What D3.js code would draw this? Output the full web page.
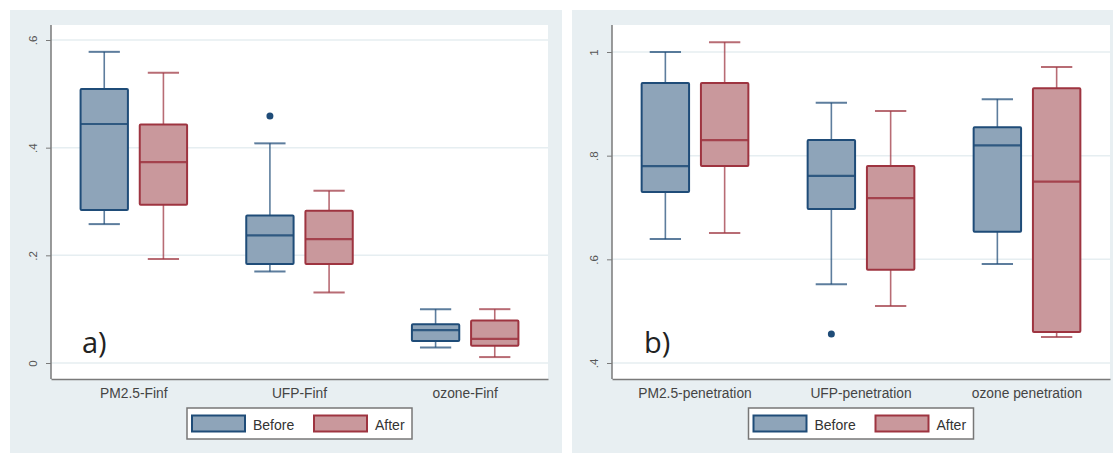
<!DOCTYPE html>
<html><head><meta charset="utf-8">
<script src="https://cdn.jsdelivr.net/npm/d3@7/dist/d3.min.js"></script>
<style>body{margin:0;background:#fff}svg{display:block}text{font-family:"Liberation Sans",Arial,sans-serif}</style>
</head><body><svg id="c" width="1113" height="454"></svg>
<script>
const seriesNames = ["Before", "After"];
// panel a
const catsA = ["PM2.5-Finf", "UFP-Finf", "ozone-Finf"];
const ticksA = [0, 0.2, 0.4, 0.6];
const tickLabelsA = ["0", ".2", ".4", ".6"];
// [lowWhisker, q1, median, q3, highWhisker]
const beforeA = [[0.258, 0.284, 0.444, 0.509, 0.578], [0.170, 0.184, 0.237, 0.274, 0.408], [0.029, 0.041, 0.061, 0.072, 0.100]];
const afterA  = [[0.193, 0.294, 0.373, 0.443, 0.539], [0.131, 0.184, 0.230, 0.283, 0.320], [0.011, 0.032, 0.045, 0.079, 0.100]];
const outliersBeforeA = [[], [0.459], []];
const outliersAfterA = [[], [], []];
// panel b
const catsB = ["PM2.5-penetration", "UFP-penetration", "ozone penetration"];
const ticksB = [0.4, 0.6, 0.8, 1.0];
const tickLabelsB = [".4", ".6", ".8", "1"];
const beforeB = [[0.639, 0.730, 0.780, 0.940, 1.000], [0.552, 0.697, 0.761, 0.830, 0.902], [0.591, 0.653, 0.820, 0.855, 0.909]];
const afterB  = [[0.651, 0.780, 0.830, 0.940, 1.019], [0.510, 0.580, 0.718, 0.780, 0.886], [0.450, 0.460, 0.750, 0.930, 0.971]];
const outliersBeforeB = [[], [0.456], []];
const outliersAfterB = [[], [], []];

const fills = ["#8ea4b9", "#c9989c"];
const strokes = ["#1f4c78", "#9e3440"];
const svg = d3.select("#c");

function panel(o) {
  const g = svg.append("g");
  g.append("rect").attr("x", o.bx0).attr("y", 10).attr("width", o.bx1 - o.bx0).attr("height", 443).attr("fill", "#e8eff2");
  g.append("rect").attr("x", o.px0).attr("y", 25).attr("width", o.px1 - o.px0).attr("height", 354).attr("fill", "#fff");
  const y = d3.scaleLinear().domain(o.domain).range(o.range);
  const x = d3.scaleBand().domain(o.cats).range([o.px0, o.px1]);
  const xs = d3.scaleBand().domain(seriesNames).range([0, x.bandwidth()]).paddingInner(0.2).paddingOuter(0.5);
  // grid
  g.selectAll(".grid").data(o.ticks).join("line")
    .attr("x1", o.px0).attr("x2", o.px1).attr("y1", d => y(d)).attr("y2", d => y(d))
    .attr("stroke", "#e6eef1").attr("stroke-width", 1.5);
  // y axis
  const ax = g.append("g").attr("transform", `translate(${o.px0},0)`)
    .call(d3.axisLeft(y).tickValues(o.ticks).tickFormat((d, i) => o.tickLabels[i]).tickSize(5).tickPadding(10));
  ax.select(".domain").attr("d", `M0,25V379`).attr("stroke", "#7a7a7a").attr("stroke-width", 1.5);
  ax.selectAll(".tick line").attr("stroke", "#7a7a7a");
  ax.selectAll(".tick text").attr("x", 0).attr("y", 0)
    .attr("dy", null).attr("text-anchor", "middle").attr("fill", "#555").attr("font-size", 11.5)
    .attr("transform", "translate(-14,0) rotate(-90)");
  // x axis
  const bx = g.append("g").attr("transform", `translate(0,379)`)
    .call(d3.axisBottom(x).tickSize(0).tickPadding(9));
  bx.select(".domain").attr("stroke", "#7a7a7a").attr("stroke-width", 1.5);
  bx.selectAll(".tick text").attr("fill", "#444").attr("font-size", 13.8);
  // boxes
  const series = [o.before, o.after];
  const outs = [o.outB, o.outA];
  series.forEach((arr, si) => {
    arr.forEach((s, ci) => {
      const x0 = x(o.cats[ci]) + xs(seriesNames[si]);
      const w = xs.bandwidth();
      const cx = x0 + w / 2;
      const wg = g.append("g");
      const capW = w * 0.66;
      wg.append("line").attr("x1", cx).attr("x2", cx).attr("y1", y(s[4])).attr("y2", y(s[3]))
        .attr("stroke", strokes[si]).attr("stroke-width", 1.6).attr("opacity", 0.72);
      wg.append("line").attr("x1", cx).attr("x2", cx).attr("y1", y(s[1])).attr("y2", y(s[0]))
        .attr("stroke", strokes[si]).attr("stroke-width", 1.6).attr("opacity", 0.72);
      [s[0], s[4]].forEach(v => wg.append("line").attr("x1", cx - capW / 2).attr("x2", cx + capW / 2)
        .attr("y1", y(v)).attr("y2", y(v)).attr("stroke", strokes[si]).attr("stroke-width", 2).attr("opacity", 0.72));
      wg.append("rect").attr("x", x0).attr("y", y(s[3])).attr("width", w).attr("height", y(s[1]) - y(s[3]))
        .attr("fill", fills[si]).attr("stroke", strokes[si]).attr("stroke-width", 2).attr("rx", 1);
      wg.append("line").attr("x1", x0).attr("x2", x0 + w).attr("y1", y(s[2])).attr("y2", y(s[2]))
        .attr("stroke", strokes[si]).attr("stroke-width", 2.2).attr("opacity", 0.85);
      outs[si][ci].forEach(v => wg.append("circle").attr("cx", cx).attr("cy", y(v)).attr("r", 3.5).attr("fill", strokes[si]));
    });
  });
  // panel label
  g.append("text").attr("x", o.labX).attr("y", 353).attr("font-size", 29).attr("fill", "#222")
    .style("font-family", "'Open Sans',sans-serif").text(o.label);
  // legend
  const lc = (o.px0 + o.px1) / 2;
  const lg = g.append("g").attr("transform", `translate(${lc - 112.5},408)`);
  lg.append("rect").attr("width", 225).attr("height", 31).attr("fill", "#fff").attr("stroke", "#777").attr("stroke-width", 1.5);
  [[5, 66], [127, 188]].forEach((p, i) => {
    lg.append("rect").attr("x", p[0]).attr("y", 7.5).attr("width", 53).attr("height", 16)
      .attr("fill", fills[i]).attr("stroke", strokes[i]).attr("stroke-width", 2);
    lg.append("text").attr("x", p[1]).attr("y", 21.5).attr("font-size", 14).attr("fill", "#333").text(seriesNames[i]);
  });
}

panel({bx0: 10, bx1: 562, px0: 51, px1: 548, domain: [0, 0.6], range: [363, 40], cats: catsA, ticks: ticksA,
  tickLabels: tickLabelsA, before: beforeA, after: afterA, outB: outliersBeforeA, outA: outliersAfterA, label: "a)", labX: 82});
panel({bx0: 572, bx1: 1113, px0: 612, px1: 1110, domain: [0.4, 1.0], range: [363, 52], cats: catsB, ticks: ticksB,
  tickLabels: tickLabelsB, before: beforeB, after: afterB, outB: outliersBeforeB, outA: outliersAfterB, label: "b)", labX: 644});
</script></body></html>
